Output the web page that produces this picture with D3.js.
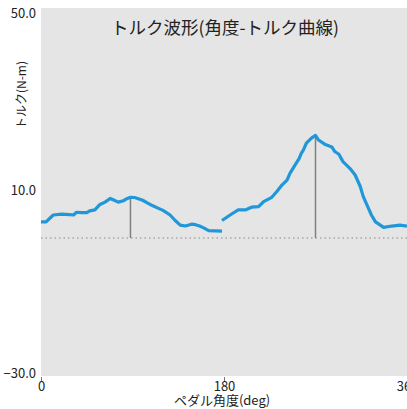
<!DOCTYPE html>
<html>
<head>
<meta charset="utf-8">
<script src="https://d3js.org/d3.v7.min.js"></script>
<style>
body { margin: 0; background: #fff; }
text { font-family: "Noto Sans CJK JP", "Noto Sans", sans-serif; fill: #222; }
</style>
</head>
<body>
<script>
var w = 407;
var h = 409;
var plotLeft = 41, plotRight = 407, plotTop = 8, plotBottom = 376;

// first half of the stroke (deg, N-m)
var angle1 = [0, 5, 12, 20, 28, 32, 35, 40, 45, 48, 53, 58, 63, 68, 71, 76, 81, 85, 88, 92, 95, 100, 105, 110, 115, 120, 127, 132, 137, 142, 148, 152, 156, 160, 165, 178];
var torque1 = [3.5, 3.5, 5.0, 5.2, 5.1, 5.0, 5.6, 5.5, 5.5, 5.9, 6.1, 7.3, 7.8, 8.6, 8.3, 7.8, 8.1, 8.6, 8.85, 8.8, 8.6, 8.2, 7.6, 7.0, 6.5, 6.0, 5.0, 3.8, 2.8, 2.6, 3.0, 2.9, 2.6, 2.2, 1.6, 1.5];

// second half
var angle2 = [178, 186, 194, 201, 207, 214, 219, 227, 232, 237, 242, 245, 250, 254, 256, 258, 261, 266, 270, 273, 279, 286, 289, 293, 297, 304, 309, 314, 317, 322, 325, 329, 337, 345, 353, 360];
var torque2 = [3.8, 5.0, 6.1, 6.1, 6.7, 6.8, 7.9, 8.85, 10.1, 11.5, 12.6, 14.1, 15.9, 17.3, 18.4, 19.1, 20.6, 21.7, 22.3, 21.3, 20.4, 19.8, 18.8, 18.2, 16.6, 15.1, 13.7, 11.2, 9.0, 6.5, 5.0, 3.5, 2.3, 2.6, 2.8, 2.6];

var yTicks = [-30, 10, 50];
var xTicks = [0, 180, 360];

var xScale = d3.scaleLinear().domain([0, 360]).range([plotLeft, plotRight]);
var yScale = d3.scaleLinear().domain([-30, 50]).range([plotBottom, plotTop]);

var svg = d3.select("body")
    .append("svg")
    .attr("width", w)
    .attr("height", h);

svg.append("rect")
    .attr("x", plotLeft)
    .attr("y", plotTop)
    .attr("width", plotRight - plotLeft)
    .attr("height", plotBottom - plotTop)
    .attr("fill", "#e5e5e5");

// zero line
svg.append("line")
    .attr("x1", plotLeft)
    .attr("x2", plotRight)
    .attr("y1", yScale(0))
    .attr("y2", yScale(0))
    .attr("stroke", "#8a8a8a")
    .attr("stroke-width", 1.2)
    .attr("stroke-dasharray", "1.5,3");

var halves = [
    angle1.map(function(a, i){ return [a, torque1[i]]; }),
    angle2.map(function(a, i){ return [a, torque2[i]]; })
];

// peak markers
halves.forEach(function(d){
    var peak = d3.greatest(d, function(p){ return p[1]; });
    svg.append("line")
        .attr("x1", xScale(peak[0]))
        .attr("x2", xScale(peak[0]))
        .attr("y1", yScale(peak[1]))
        .attr("y2", yScale(0))
        .attr("stroke", "#808080")
        .attr("stroke-width", 1.5);
});

var line = d3.line()
    .x(function(d){ return xScale(d[0]); })
    .y(function(d){ return yScale(d[1]); });

svg.selectAll("path.torque")
    .data(halves)
    .enter()
    .append("path")
    .attr("class", "torque")
    .attr("d", line)
    .attr("fill", "none")
    .attr("stroke", "#1f97d9")
    .attr("stroke-width", 3.2)
    .attr("stroke-linejoin", "round");

// y axis labels
var yAxis = svg.append("g")
    .attr("transform", "translate(" + plotLeft + ",0)")
    .call(d3.axisLeft(yScale).tickValues(yTicks).tickSize(0).tickPadding(5)
        .tickFormat(d3.format(".1f")));
yAxis.select(".domain").remove();
yAxis.selectAll("text")
    .style("font-size", "13px")
    .attr("fill", "#222")
    .attr("dy", function(d){
        if(d == 50){ return "0.75em"; }
        if(d == -30){ return "0.1em"; }
        return "0.2em";
    });

// x axis
var xAxis = svg.append("g")
    .attr("transform", "translate(0," + plotBottom + ")")
    .call(d3.axisBottom(xScale).tickValues(xTicks).tickSize(4).tickPadding(2));
xAxis.select(".domain").remove();
xAxis.selectAll("line").attr("stroke", "#777").attr("transform", "translate(0,1)");
xAxis.selectAll("text")
    .style("font-size", "13px")
    .attr("fill", "#222");

svg.append("text")
    .attr("x", 225)
    .attr("y", 34)
    .attr("text-anchor", "middle")
    .style("font-size", "17.5px")
    .style("font-weight", "400")
    .text("トルク波形(角度-トルク曲線)");

svg.append("text")
    .attr("transform", "translate(26,95) rotate(-90)")
    .attr("text-anchor", "middle")
    .style("font-size", "12px")
    .text("トルク(N-m)");

svg.append("text")
    .attr("x", 222)
    .attr("y", 405)
    .attr("text-anchor", "middle")
    .style("font-size", "13px")
    .text("ペダル角度(deg)");
</script>
</body>
</html>
